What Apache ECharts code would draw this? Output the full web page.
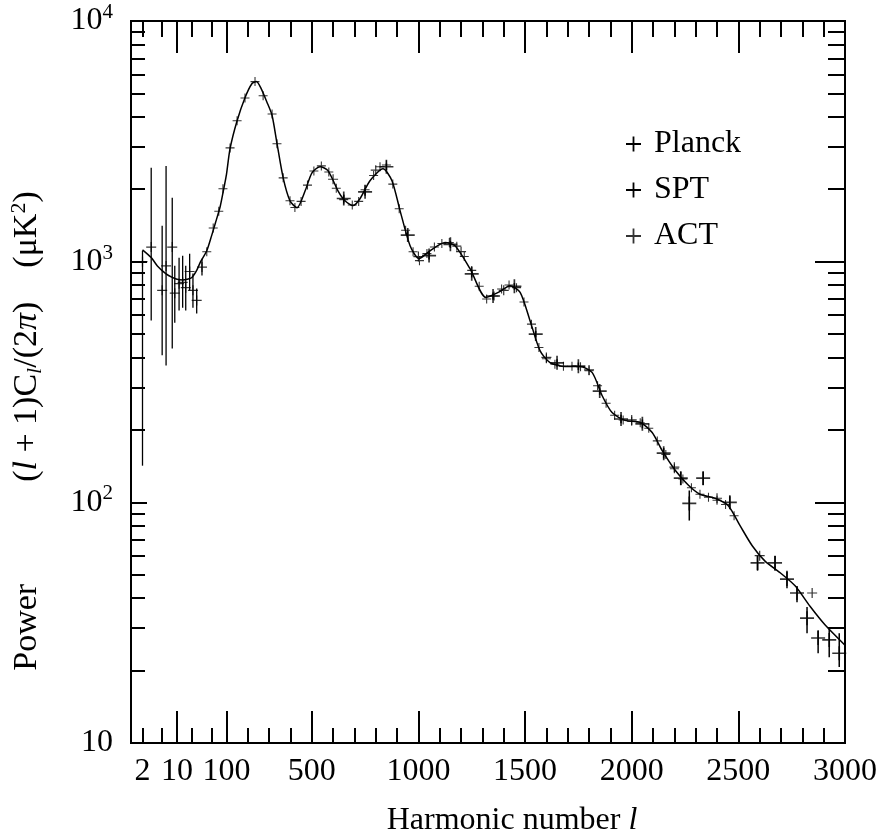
<!DOCTYPE html>
<html>
<head>
<meta charset="utf-8">
<title>CMB power spectrum</title>
<script src="https://cdn.jsdelivr.net/npm/echarts@6/dist/echarts.min.js"></script>
<style>
  html, body { margin: 0; padding: 0; background: #fff; }
  #chart { width: 882px; height: 832px; }
</style>
</head>
<body>
<div id="chart"></div>
<script>
// best-fit curve, harmonic number l vs power (uK^2)
const curveL = [2, 3, 4, 6, 8, 10, 13, 16, 20, 25, 30, 40, 50, 60, 75, 90, 100, 117, 150, 187, 220, 240, 260, 290, 314, 337, 366, 398, 431, 469, 501, 539, 576, 623, 656, 694, 726, 773, 834, 876, 914, 961, 1003, 1055, 1125, 1172, 1242, 1317, 1374, 1430, 1477, 1523, 1570, 1617, 1688, 1758, 1815, 1861, 1908, 1969, 2040, 2096, 2143, 2204, 2265, 2320, 2391, 2452, 2508, 2565, 2625, 2696, 2766, 2836, 2906, 3000];
const curveD = [1120, 1040, 960, 890, 860, 845, 840, 845, 860, 920, 1000, 1110, 1280, 1450, 1700, 2050, 2300, 2950, 3850, 4800, 5500, 5600, 5300, 4600, 4050, 3100, 2230, 1790, 1675, 1970, 2340, 2480, 2390, 1970, 1790, 1710, 1825, 2170, 2430, 2170, 1630, 1165, 1030, 1110, 1200, 1165, 935, 710, 745, 795, 745, 570, 427, 381, 367, 367, 346, 278, 236, 219, 215, 195, 164, 136, 118, 108, 104, 97, 80, 66, 57, 51, 45, 37, 31, 25.5];

// Planck low-l points with error bars
const plLowL = [2, 3, 5, 6, 8, 9, 11, 13, 15, 18, 21, 25, 32];
const plLowD = [1000, 1150, 760, 960, 1150, 740, 810, 820, 780, 910, 760, 690, 950];
const plLowLo = [142, 569, 408, 370, 436, 558, 626, 644, 626, 758, 644, 609, 875];
const plLowHi = [1110, 2455, 1410, 2500, 1844, 962, 1039, 1059, 962, 1079, 892, 773, 1029];

// Planck binned points
const planckL = [40, 54, 70, 85, 117, 150, 187, 234, 272, 314, 337, 366, 398, 421, 450, 480, 510, 545, 580, 615, 650, 690, 720, 750, 790, 820, 850, 880, 910, 940, 975, 1005, 1040, 1075, 1110, 1145, 1180, 1215, 1250, 1285, 1320, 1355, 1390, 1425, 1460, 1495, 1530, 1565, 1600, 1640, 1680, 1720, 1760, 1800, 1840, 1880, 1920, 1960, 2000, 2040, 2080, 2120, 2160, 2200, 2240, 2280, 2320, 2360, 2400, 2440, 2480];
const planckD = [1100, 1380, 1620, 2010, 2970, 3850, 4790, 5600, 4890, 4110, 3090, 2230, 1790, 1680, 1780, 2080, 2380, 2500, 2360, 2020, 1810, 1720, 1780, 1990, 2280, 2480, 2520, 2100, 1660, 1350, 1100, 1010, 1080, 1150, 1190, 1200, 1160, 1050, 920, 790, 700, 720, 770, 800, 780, 680, 550, 440, 395, 375, 368, 368, 366, 352, 305, 258, 230, 220, 217, 214, 203, 180, 158, 138, 125, 115, 108, 105, 102, 98, 88];

// SPT points with error bars
const sptL = [650, 750, 850, 950, 1050, 1150, 1250, 1350, 1450, 1550, 1650, 1750, 1850, 1950, 2050, 2150, 2230, 2270, 2335, 2460, 2590, 2672, 2728, 2775, 2822, 2874, 2926, 2973];
const sptD = [1830, 1950, 2480, 1290, 1060, 1180, 890, 720, 790, 500, 380, 368, 290, 222, 212, 160, 126, 99, 126, 100, 56, 56, 48, 42, 33, 27.3, 26.8, 23.6];
const sptLo = [1760, 1880, 2400, 1240, 1020, 1140, 860, 695, 765, 484, 367, 355, 280, 213, 203, 152, 118, 84, 118, 94, 52, 52, 44, 38.4, 28.6, 23.6, 22.7, 20.7];
const sptHi = [1900, 2020, 2560, 1340, 1100, 1220, 920, 745, 815, 516, 393, 381, 300, 231, 221, 168, 134, 112, 134, 106, 60, 60, 52, 44.7, 36.7, 29.4, 30.3, 28.6];

// ACT points
const actL = [600, 800, 1000, 1200, 1400, 1600, 1800, 2000, 2200, 2400, 2600, 2846];
const actD = [2200, 2400, 1050, 1100, 760, 400, 355, 220, 140, 104, 60, 42];

// axis ticks
const xLabels = [2, 10, 100, 500, 1000, 1500, 2000, 2500, 3000];
const xMajor = [10, 100, 500, 1000, 1500, 2000, 2500, 3000];
const xMinor = [2, 5, 20, 50, 200, 300, 400, 600, 700, 800, 900, 1100, 1200, 1300, 1400, 1600, 1700, 1800, 1900, 2100, 2200, 2300, 2400, 2600, 2700, 2800, 2900];
const yMajor = [10, 100, 1000, 10000];
const yMinor = [20, 30, 40, 50, 60, 70, 80, 90, 200, 300, 400, 500, 600, 700, 800, 900, 2000, 3000, 4000, 5000, 6000, 7000, 8000, 9000];

const FONT = 'Liberation Serif';
const FS = 32;
const LOG_SPAN = 231.6; // axis units per decade below l = 100 (log part of the axis)

// l < 100 is drawn on a log scale, above that linear
function lx(l) {
  return l >= 100 ? l : 100 + (Math.log10(l) - 2) * LOG_SPAN;
}

const PLUS = 'path://M4.4,0H5.6V4.4H10V5.6H5.6V10H4.4V5.6H0V4.4H4.4Z';

const chart = echarts.init(document.getElementById('chart'));

function xAxis(pos, ticks, len, withLabel) {
  return {
    type: 'value',
    position: pos,
    min: lx(1.17),
    max: 3000,
    axisLine: {show: true, onZero: false, lineStyle: {color: '#000', width: 2}},
    axisTick: {show: true, inside: true, length: len, customValues: ticks.map(lx), lineStyle: {color: '#000', width: 2}},
    axisLabel: withLabel ? {
      show: true,
      customValues: xLabels.map(lx),
      margin: 13,
      hideOverlap: false,
      color: '#000',
      fontFamily: FONT,
      fontSize: FS,
      formatter: (v) => {
        const l = xLabels.find((x) => Math.abs(lx(x) - v) < 0.01);
        return l === undefined ? '' : String(l);
      }
    } : {show: false},
    splitLine: {show: false}
  };
}

function yAxis(pos, ticks, len, withLabel) {
  return {
    type: 'log',
    logBase: 10,
    position: pos,
    min: 10,
    max: 10000,
    axisLine: {show: true, onZero: false, lineStyle: {color: '#000', width: 2}},
    axisTick: {show: true, inside: true, length: len, customValues: ticks, lineStyle: {color: '#000', width: 2}},
    axisLabel: withLabel ? {
      show: true,
      customValues: yMajor,
      margin: 18,
      hideOverlap: false,
      formatter: (v) => {
        const p = Math.round(Math.log10(v));
        return p === 1 ? '{n|10}' : '{n|10}{s|' + p + '}';
      },
      rich: {
        n: {fontFamily: FONT, fontSize: FS, lineHeight: 38, color: '#000'},
        s: {fontFamily: FONT, fontSize: 21, lineHeight: 21, verticalAlign: 'top', color: '#000'}
      }
    } : {show: false},
    splitLine: {show: false}
  };
}

const xAxes = [
  xAxis('bottom', xMajor, 32, true),
  xAxis('bottom', xMinor, 15, false),
  xAxis('top', xMajor, 32, false),
  xAxis('top', xMinor, 16, false)
];
xAxes[0].name = 'Harmonic number {i|l}';
xAxes[0].nameLocation = 'middle';
xAxes[0].nameGap = 62;
xAxes[0].nameTextStyle = {
  fontFamily: FONT, fontSize: FS, lineHeight: 32, color: '#000', padding: [0, 0, 0, 48],
  rich: {i: {fontFamily: FONT, fontStyle: 'italic', fontSize: FS, color: '#000'}}
};

const yAxes = [
  yAxis('left', yMajor, 16, true),
  yAxis('left', yMinor, 14, false),
  yAxis('right', yMajor, 30, false),
  yAxis('right', yMinor, 17, false)
];
yAxes[0].name = 'Power            ({i|l} + 1)C{sub|l}/(2{i|\u03c0})    (\u03bcK{sup|2})';
yAxes[0].nameLocation = 'middle';
yAxes[0].nameGap = 85;
yAxes[0].nameTextStyle = {
  fontFamily: FONT, fontSize: 34, lineHeight: 38, color: '#000', padding: [0, 98, 0, 0],
  rich: {
    i: {fontFamily: FONT, fontStyle: 'italic', fontSize: 34, lineHeight: 38, color: '#000'},
    sub: {fontFamily: FONT, fontStyle: 'italic', fontSize: 22, lineHeight: 22, verticalAlign: 'bottom', color: '#000'},
    sup: {fontFamily: FONT, fontSize: 22, lineHeight: 22, verticalAlign: 'top', color: '#000'}
  }
};

function errorBars(name, ls, los, his, width) {
  return {
    type: 'custom',
    name: name,
    data: ls.map((l, i) => [lx(l), los[i], his[i]]),
    encode: {x: 0, y: [1, 2]},
    itemStyle: {color: '#000'},
    z: 3,
    renderItem: (params, api) => {
      const lo = api.coord([api.value(0), api.value(1)]);
      const hi = api.coord([api.value(0), api.value(2)]);
      return {
        type: 'line',
        shape: {x1: lo[0], y1: lo[1], x2: hi[0], y2: hi[1]},
        style: {stroke: '#000', lineWidth: width}
      };
    }
  };
}

function crosses(name, ls, ds, size) {
  return {
    type: 'scatter',
    name: name,
    data: ls.map((l, i) => [lx(l), ds[i]]),
    symbol: PLUS,
    symbolSize: size,
    itemStyle: {color: '#000'},
    z: 4
  };
}

const option = {
  animation: false,
  backgroundColor: '#fff',
  grid: {left: 131, right: 37, top: 21, bottom: 89, outerBoundsMode: 'none', containLabel: false},
  legend: {
    orient: 'vertical',
    left: 626,
    top: 128,
    padding: 0,
    itemWidth: 15,
    itemHeight: 15,
    itemGap: 14,
    formatter: (name) => ' ' + name,
    textStyle: {fontFamily: FONT, fontSize: FS, lineHeight: 32, color: '#000'},
    data: [
      {name: 'Planck', icon: PLUS},
      {name: 'SPT', icon: PLUS},
      {name: 'ACT', icon: PLUS}
    ]
  },
  xAxis: xAxes,
  yAxis: yAxes,
  series: [
    {
      type: 'line',
      name: 'theory',
      data: curveL.map((l, i) => [lx(l), curveD[i]]),
      showSymbol: false,
      smooth: 0.25,
      lineStyle: {color: '#000', width: 1.5},
      z: 2
    },
    errorBars('Planck', plLowL, plLowLo, plLowHi, 1.3),
    crosses('Planck', plLowL, plLowD, 10),
    crosses('Planck', planckL, planckD, 9),
    errorBars('SPT', sptL, sptLo, sptHi, 1.5),
    crosses('SPT', sptL, sptD, 14),
    crosses('ACT', actL, actD, 10)
  ]
};

chart.setOption(option);
window.addEventListener('resize', () => {
  chart.resize();
});
</script>
</body>
</html>
